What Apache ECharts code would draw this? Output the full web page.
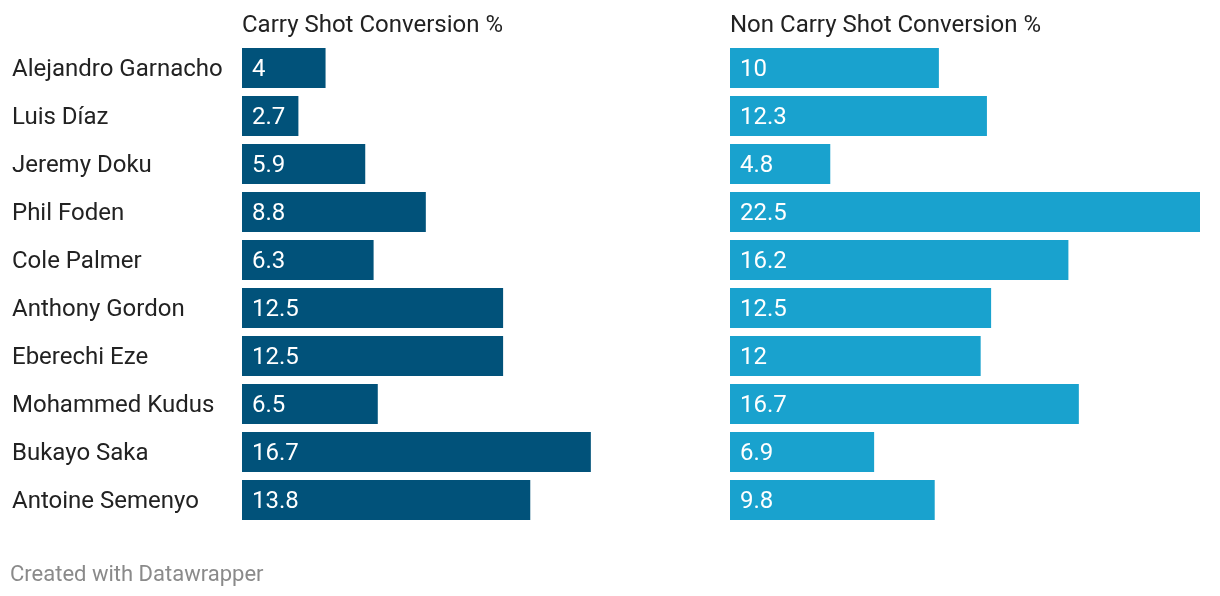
<!DOCTYPE html>
<html><head><meta charset="utf-8">
<script src="https://cdn.jsdelivr.net/npm/echarts@6/dist/echarts.min.js"></script>
<style>html,body{margin:0;padding:0;background:#fff}#c{width:1220px;height:596px}</style>
</head><body><div id="c"></div>
<script>
const players = ["Alejandro Garnacho","Luis Díaz","Jeremy Doku","Phil Foden","Cole Palmer","Anthony Gordon","Eberechi Eze","Mohammed Kudus","Bukayo Saka","Antoine Semenyo"];
const carry = [4, 2.7, 5.9, 8.8, 6.3, 12.5, 12.5, 6.5, 16.7, 13.8];
const nonCarry = [10, 12.3, 4.8, 22.5, 16.2, 12.5, 12, 16.7, 6.9, 9.8];
const titles = ["Carry Shot Conversion %", "Non Carry Shot Conversion %"];
const FONT = 'Roboto';
const chart = echarts.init(document.getElementById('c'));
const lbl = {show:true, position:'insideLeft', distance:10, color:'#fff', fontSize:24, fontFamily:FONT, offset:[0,2]};
chart.setOption({
  animation:false,
  textStyle:{fontFamily:FONT},
  title:[
    {text:titles[0], left:237, top:9, textStyle:{fontSize:24, fontWeight:'normal', color:'#222', fontFamily:FONT}},
    {text:titles[1], left:725, top:9, textStyle:{fontSize:24, fontWeight:'normal', color:'#222', fontFamily:FONT}},
    {text:'Created with Datawrapper', left:5, top:559, textStyle:{fontSize:22, fontWeight:'normal', color:'#8a8a8a', fontFamily:FONT}}
  ],
  grid:[
    {left:242, top:44, width:470, height:480},
    {left:730, top:44, width:470, height:480}
  ],
  xAxis:[
    {gridIndex:0, type:'value', min:0, max:22.5, show:false},
    {gridIndex:1, type:'value', min:0, max:22.5, show:false}
  ],
  yAxis:[
    {gridIndex:0, type:'category', data:players, inverse:true, axisLine:{show:false}, axisTick:{show:false},
     axisLabel:{align:'left', margin:230, color:'#222', fontFamily:FONT, fontSize:24,
       formatter: v => '{n|' + v + '}',
       rich:{n:{fontSize:24, fontFamily:FONT, color:'#222', padding:[4,0,0,0]}}}},
    {gridIndex:1, type:'category', data:players, inverse:true, show:false}
  ],
  series:[
    {type:'bar', xAxisIndex:0, yAxisIndex:0, data:carry, barWidth:40, itemStyle:{color:'#01527a'}, label:lbl},
    {type:'bar', xAxisIndex:1, yAxisIndex:1, data:nonCarry, barWidth:40, itemStyle:{color:'#19a2ce'}, label:lbl}
  ]
});
</script></body></html>
